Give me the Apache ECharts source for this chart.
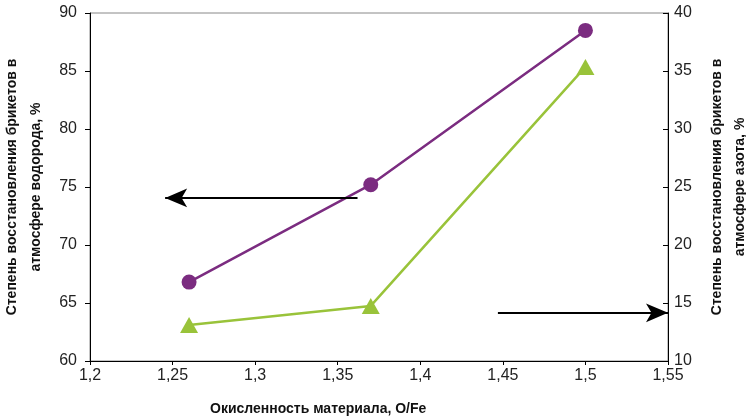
<!DOCTYPE html>
<html>
<head>
<meta charset="utf-8">
<script src="https://cdn.jsdelivr.net/npm/echarts@6/dist/echarts.min.js"></script>
<style>html,body{margin:0;padding:0;background:#fff}#c{width:746px;height:418px}</style>
</head>
<body>
<div id="c"></div>
<script>
// Data
var xValues = [1.26, 1.37, 1.5];
var hydrogen = [66.8, 75.2, 88.5];   // left axis
var nitrogen = [13.1, 14.75, 35.35];  // right axis
var leftArrow = [[1.362, 74.06], [1.2455, 74.06]];
var rightArrow = [[1.447, 14.15], [1.55, 14.15]];
var xTitle = 'Окисленность материала, O/Fe';
var leftTitle = 'Степень восстановления брикетов в\nатмосфере водорода, %';
var rightTitle = 'Степень восстановления брикетов в\nатмосфере азота, %';

var font = 'Liberation Sans, Arial, sans-serif';
function pairs(xs, ys){ return xs.map(function(x,i){ return [x, ys[i]]; }); }
function fmt(v){ return String(+(+v).toFixed(2)).replace('.', ','); }

var chart = echarts.init(document.getElementById('c'));
chart.setOption({
  animation: false,
  backgroundColor: '#fff',
  grid: { left: 90, right: 78, top: 13, bottom: 57, containLabel: false, outerBoundsMode: 'none',
          show: true, borderColor: '#888', borderWidth: 1 },
  xAxis: {
    type: 'value', min: 1.2, max: 1.55, interval: 0.05,
    axisLine: { lineStyle: { color: '#000', width: 1 } },
    axisTick: { length: 4, lineStyle: { color: '#000' } },
    splitLine: { show: false },
    axisLabel: { formatter: fmt, color: '#222', fontFamily: font, fontSize: 16, margin: 7 }
  },
  yAxis: [{
    type: 'value', min: 60, max: 90, interval: 5, position: 'left',
    axisLine: { show: true, lineStyle: { color: '#000', width: 1 } },
    axisTick: { show: true, length: 5, lineStyle: { color: '#000' } },
    splitLine: { show: false },
    axisLabel: { color: '#222', fontFamily: font, fontSize: 16, margin: 13 },
    name: leftTitle, nameLocation: 'middle', nameGap: 65, nameRotate: 90,
    nameTextStyle: { fontFamily: font, fontSize: 14, fontWeight: 'bold', color: '#111', lineHeight: 24,
                     align: 'center', verticalAlign: 'middle' }
  }, {
    type: 'value', min: 10, max: 40, interval: 5, position: 'right',
    axisLine: { show: true, lineStyle: { color: '#000', width: 1 } },
    axisTick: { show: true, inside: true, length: 5, lineStyle: { color: '#000' } },
    splitLine: { show: false },
    axisLabel: { color: '#222', fontFamily: font, fontSize: 16, margin: 6 },
    name: rightTitle, nameLocation: 'middle', nameGap: 61, nameRotate: 90,
    nameTextStyle: { fontFamily: font, fontSize: 14, fontWeight: 'bold', color: '#111', lineHeight: 23,
                     align: 'center', verticalAlign: 'middle' }
  }],
  graphic: [{
    type: 'text', left: 210, top: 402,
    style: { text: xTitle, font: 'bold 14px ' + font, fill: '#111' }
  }],
  series: [{
    type: 'line', yAxisIndex: 0, data: pairs(xValues, hydrogen),
    symbol: 'circle', symbolSize: 15,
    lineStyle: { color: '#7B2C80', width: 2.5 },
    itemStyle: { color: '#7B2C80' },
    markLine: {
      silent: true, symbol: ['none', 'arrow'], symbolSize: [14, 22],
      lineStyle: { color: '#000', width: 2, type: 'solid' }, label: { show: false },
      data: [[{ coord: leftArrow[0] }, { coord: leftArrow[1] }]]
    }
  }, {
    type: 'line', yAxisIndex: 1, data: pairs(xValues, nitrogen),
    symbol: 'triangle', symbolSize: [18, 16],
    lineStyle: { color: '#99C33A', width: 2.5 },
    itemStyle: { color: '#99C33A' },
    markLine: {
      silent: true, symbol: ['none', 'arrow'], symbolSize: [14, 22],
      lineStyle: { color: '#000', width: 2, type: 'solid' }, label: { show: false },
      data: [[{ coord: rightArrow[0] }, { coord: rightArrow[1] }]]
    }
  }]
});
</script>
</body>
</html>
